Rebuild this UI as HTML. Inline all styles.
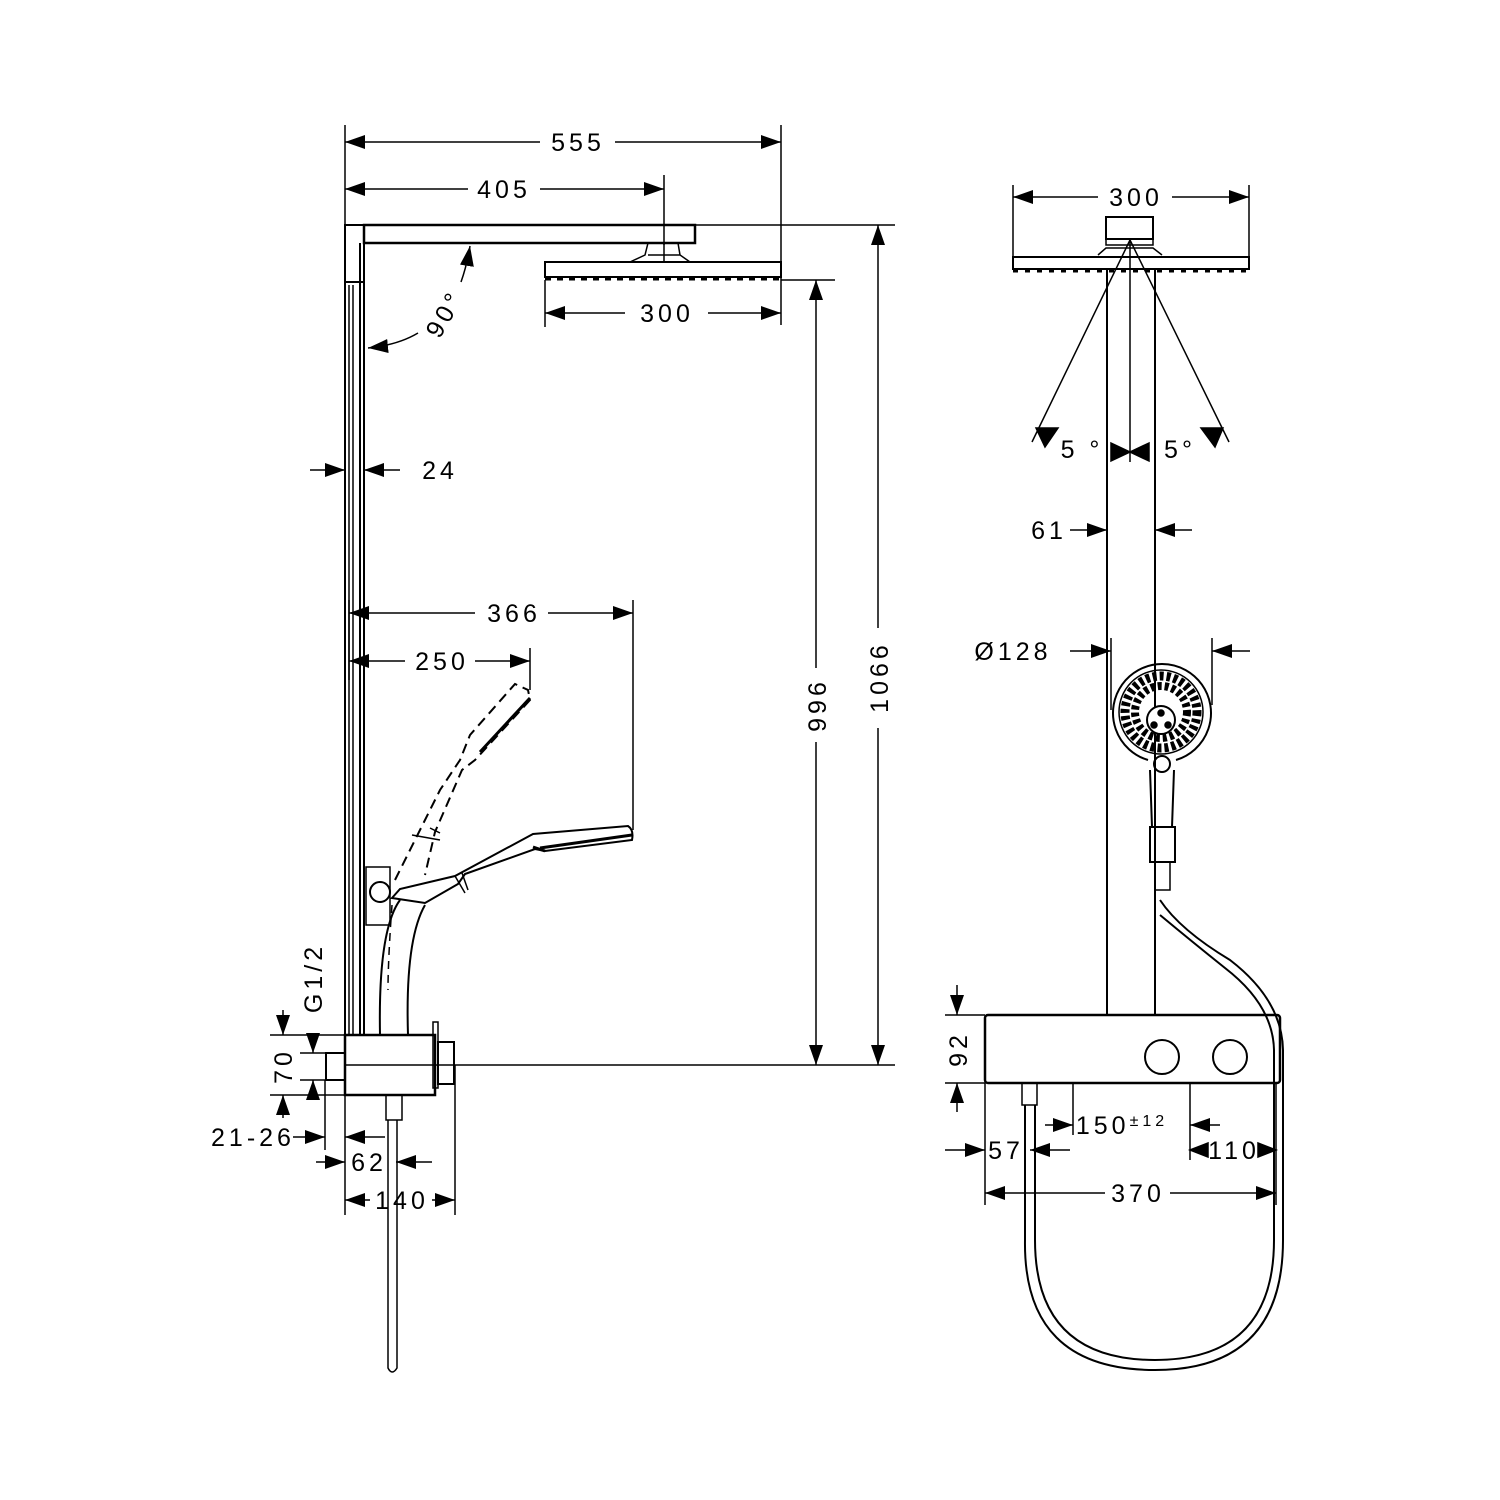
<!DOCTYPE html>
<html><head><meta charset="utf-8"><style>
html,body{margin:0;padding:0;background:#fff}
svg{display:block}
text{font-family:"Liberation Sans",sans-serif;font-size:25px;fill:#000;letter-spacing:4px}
</style></head><body>
<svg width="1500" height="1500" viewBox="0 0 1500 1500" xmlns="http://www.w3.org/2000/svg">
<defs>
<marker id="a" viewBox="0 0 20 14" refX="20" refY="7" markerWidth="20" markerHeight="14" markerUnits="userSpaceOnUse" orient="auto-start-reverse"><path d="M0,0L20,7L0,14Z" fill="#000"/></marker>
</defs>
<g stroke="#000" fill="none" stroke-width="1.5">
<line x1="345" y1="125" x2="345" y2="225"/>
<line x1="781" y1="125" x2="781" y2="325"/>
<line x1="664" y1="175" x2="664" y2="245"/>
<line x1="695" y1="225" x2="895" y2="225"/>
<line x1="781" y1="280" x2="835" y2="280"/>
<line x1="545" y1="280" x2="545" y2="327"/>
<line x1="455" y1="1065" x2="895" y2="1065"/>
<line x1="345" y1="142" x2="540" y2="142" marker-start="url(#a)"/>
<line x1="615" y1="142" x2="781" y2="142" marker-end="url(#a)"/>
<line x1="345" y1="189" x2="468" y2="189" marker-start="url(#a)"/>
<line x1="540" y1="189" x2="664" y2="189" marker-end="url(#a)"/>
<line x1="545" y1="313" x2="625" y2="313" marker-start="url(#a)"/>
<line x1="708" y1="313" x2="781" y2="313" marker-end="url(#a)"/>
<line x1="816" y1="280" x2="816" y2="668" marker-start="url(#a)"/>
<line x1="816" y1="742" x2="816" y2="1065" marker-end="url(#a)"/>
<line x1="878" y1="225" x2="878" y2="628" marker-start="url(#a)"/>
<line x1="878" y1="728" x2="878" y2="1065" marker-end="url(#a)"/>
<line x1="310" y1="470" x2="345" y2="470" marker-end="url(#a)"/>
<line x1="400" y1="470" x2="364" y2="470" marker-end="url(#a)"/>
<line x1="345" y1="455" x2="345" y2="485"/>
<line x1="349" y1="613" x2="475" y2="613" marker-start="url(#a)"/>
<line x1="548" y1="613" x2="633" y2="613" marker-end="url(#a)"/>
<line x1="633" y1="600" x2="633" y2="830"/>
<line x1="349" y1="600" x2="349" y2="680"/>
<line x1="349" y1="661" x2="405" y2="661" marker-start="url(#a)"/>
<line x1="475" y1="661" x2="530" y2="661" marker-end="url(#a)"/>
<line x1="530" y1="648" x2="530" y2="690"/>
<path d="M418,333 Q398,345 368,348" marker-end="url(#a)"/>
<path d="M461,282 Q467,265 470,246" marker-end="url(#a)"/>
<rect x="345" y="225" width="19" height="57" stroke-width="2"/>
<rect x="364" y="225" width="331" height="18" stroke-width="2.5"/>
<path d="M630,262 L645,255 L648,243 M690,262 L680,255 L678,243 M648,255 L680,255" stroke-width="1.5"/>
<line x1="664" y1="243" x2="664" y2="262"/>
<rect x="545" y="262" width="236" height="15" stroke-width="2"/>
<path d="M545,279 H781" stroke-width="3" stroke-dasharray="6 6"/>
<line x1="345" y1="282" x2="345" y2="1035" stroke-width="2"/>
<line x1="349" y1="285" x2="349" y2="1035"/>
<line x1="353" y1="285" x2="353" y2="1035"/>
<line x1="360" y1="243" x2="360" y2="1035" stroke-width="2"/>
<line x1="364" y1="243" x2="364" y2="1035" stroke-width="2"/>
<rect x="366" y="867" width="24" height="58"/>
<circle cx="380" cy="892" r="10" stroke-width="2"/>
<path d="M392,898 L400,889 L455,876 L533,834 L628,826 Q634,830 632,840 L545,851 L535,849 L465,874 L458,884 L425,903 Z" stroke-width="2"/>
<line x1="455" y1="876" x2="465" y2="893"/>
<line x1="462" y1="873" x2="468" y2="890"/>
<path d="M533,847 L545,851 M540,848 L632,835" stroke-width="3"/>
<path d="M400,900 Q378,930 380,1035" stroke-width="2"/>
<path d="M425,905 Q405,940 408,1035" stroke-width="2"/>
<path d="M392,905 Q388,960 388,990" stroke-dasharray="8 6"/>
<path d="M395,880 L420,830 L440,790 L460,760 L470,735 L515,684 L528,690 L530,700 L475,760 L462,770 L435,832 L425,875" stroke-width="2" stroke-dasharray="10 6"/>
<path d="M480,752 L530,698" stroke-width="3"/>
<line x1="430" y1="828" x2="440" y2="833"/>
<line x1="412" y1="835" x2="440" y2="840"/>
<rect x="345" y="1035" width="90" height="60" stroke-width="2.5"/>
<rect x="326" y="1053" width="19" height="27" stroke-width="2"/>
<rect x="433" y="1022" width="5" height="66" stroke-width="1.5"/>
<rect x="438" y="1042" width="16" height="42" stroke-width="2"/>
<line x1="345" y1="1065" x2="455" y2="1065"/>
<rect x="386" y="1095" width="16" height="25" stroke-width="1.5"/>
<path d="M388,1120 V1368 Q392,1376 397,1368 V1120" stroke-width="1.5"/>
<line x1="283" y1="1010" x2="283" y2="1035" marker-end="url(#a)"/>
<line x1="283" y1="1118" x2="283" y2="1095" marker-end="url(#a)"/>
<line x1="270" y1="1035" x2="345" y2="1035"/>
<line x1="270" y1="1095" x2="345" y2="1095"/>
<line x1="313" y1="1033" x2="313" y2="1053" marker-end="url(#a)"/>
<line x1="313" y1="1100" x2="313" y2="1080" marker-end="url(#a)"/>
<line x1="300" y1="1053" x2="326" y2="1053"/>
<line x1="300" y1="1080" x2="326" y2="1080"/>
<line x1="325" y1="1080" x2="325" y2="1150"/>
<line x1="345" y1="1095" x2="345" y2="1215"/>
<line x1="455" y1="1065" x2="455" y2="1215"/>
<line x1="293" y1="1137" x2="325" y2="1137" marker-end="url(#a)"/>
<line x1="385" y1="1137" x2="345" y2="1137" marker-end="url(#a)"/>
<line x1="316" y1="1162" x2="345" y2="1162" marker-end="url(#a)"/>
<line x1="432" y1="1162" x2="396" y2="1162" marker-end="url(#a)"/>
<line x1="345" y1="1200" x2="370" y2="1200" marker-start="url(#a)"/>
<line x1="432" y1="1200" x2="455" y2="1200" marker-end="url(#a)"/>

<line x1="1013" y1="185" x2="1013" y2="262"/>
<line x1="1249" y1="185" x2="1249" y2="262"/>
<line x1="1013" y1="197" x2="1098" y2="197" marker-start="url(#a)"/>
<line x1="1172" y1="197" x2="1249" y2="197" marker-end="url(#a)"/>
<rect x="1106" y="217" width="47" height="22" stroke-width="2"/>
<rect x="1106" y="239" width="47" height="6"/>
<path d="M1098,255 L1106,248 H1153 L1162,255" />
<rect x="1013" y="257" width="236" height="12" stroke-width="2"/>
<path d="M1013,271 H1249" stroke-width="3" stroke-dasharray="5 7"/>
<line x1="1107" y1="269" x2="1107" y2="1015" stroke-width="2"/>
<line x1="1155" y1="269" x2="1155" y2="1015" stroke-width="2"/>
<line x1="1130" y1="240" x2="1130" y2="462"/>
<line x1="1130" y1="240" x2="1032" y2="442"/>
<line x1="1130" y1="240" x2="1229" y2="442"/>
<path d="M1036,428 L1058,428 L1045,447Z" fill="#000"/>
<path d="M1201,428 L1223,428 L1215,447Z" fill="#000"/>
<path d="M1111,443 L1130,452 L1111,461Z M1149,443 L1130,452 L1149,461Z" fill="#000"/>
<line x1="1070" y1="530" x2="1107" y2="530" marker-end="url(#a)"/>
<line x1="1192" y1="530" x2="1155" y2="530" marker-end="url(#a)"/>
<line x1="1070" y1="651" x2="1111" y2="651" marker-end="url(#a)"/>
<line x1="1250" y1="651" x2="1212" y2="651" marker-end="url(#a)"/>
<line x1="1111" y1="638" x2="1111" y2="710"/>
<line x1="1212" y1="638" x2="1212" y2="705"/>
<path d="M1148,760 A49,49 0 1 1 1176,760" stroke-width="2"/>
<circle cx="1161" cy="712" r="42" stroke-width="1.5"/>
<circle cx="1161" cy="712" r="36" stroke="#000" stroke-width="9" stroke-dasharray="4 3"/>
<circle cx="1161" cy="712" r="26" stroke="#000" stroke-width="8" stroke-dasharray="4 3"/>
<circle cx="1161" cy="720" r="14" fill="#fff" stroke-width="2"/>
<circle cx="1161" cy="713" r="3" fill="#000"/><circle cx="1154" cy="725" r="3" fill="#000"/><circle cx="1168" cy="725" r="3" fill="#000"/>
<circle cx="1162" cy="764" r="8" stroke-width="2"/>
<path d="M1150,770 L1152,827 M1174,770 L1172,827" stroke-width="2"/>
<rect x="1150" y="827" width="25" height="35" stroke-width="2"/>
<path d="M1155,862 V890 H1170 V862"/>
<path d="M1160,900 Q1180,930 1230,960 Q1282,1000 1283,1050 V1240 Q1283,1370 1155,1370 Q1023,1370 1025,1240 V1105" stroke-width="2"/>
<path d="M1160,915 Q1190,940 1225,968 Q1273,1005 1274,1050 V1240 Q1274,1360 1155,1360 Q1035,1360 1035,1240 V1105" stroke-width="2"/>
<rect x="985" y="1015" width="295" height="68" rx="3" stroke-width="2.5"/>
<circle cx="1162" cy="1057" r="17" stroke-width="2"/>
<circle cx="1230" cy="1057" r="17" stroke-width="2"/>
<rect x="1022" y="1083" width="15" height="22"/>
<line x1="957" y1="985" x2="957" y2="1015" marker-end="url(#a)"/>
<line x1="957" y1="1112" x2="957" y2="1083" marker-end="url(#a)"/>
<line x1="945" y1="1015" x2="985" y2="1015"/>
<line x1="945" y1="1083" x2="985" y2="1083"/>
<line x1="985" y1="1083" x2="985" y2="1205"/>
<line x1="1276" y1="1083" x2="1276" y2="1205"/>
<line x1="1073" y1="1083" x2="1073" y2="1135"/>
<line x1="1190" y1="1083" x2="1190" y2="1160"/>
<line x1="1045" y1="1125" x2="1073" y2="1125" marker-end="url(#a)"/>
<line x1="1220" y1="1125" x2="1190" y2="1125" marker-end="url(#a)"/>
<line x1="945" y1="1150" x2="985" y2="1150" marker-end="url(#a)"/>
<line x1="1070" y1="1150" x2="1030" y2="1150" marker-end="url(#a)"/>
<path d="M1190,1150 L1208,1143 V1157 Z M1276,1150 L1258,1143 V1157Z" fill="#000"/>
<line x1="985" y1="1193" x2="1105" y2="1193" marker-start="url(#a)"/>
<line x1="1170" y1="1193" x2="1276" y2="1193" marker-end="url(#a)"/>
</g>
<text x="578" y="151" text-anchor="middle">555</text>
<text x="504" y="198" text-anchor="middle">405</text>
<text x="667" y="322" text-anchor="middle">300</text>
<text x="440" y="479" text-anchor="middle">24</text>
<text x="514" y="622" text-anchor="middle">366</text>
<text x="442" y="670" text-anchor="middle">250</text>
<text transform="translate(452,318) rotate(-60)" text-anchor="middle">90°</text>
<text transform="translate(826,705) rotate(-90)" text-anchor="middle">996</text>
<text transform="translate(888,677) rotate(-90)" text-anchor="middle">1066</text>
<text transform="translate(322,978) rotate(-90)" text-anchor="middle">G1/2</text>
<text transform="translate(292,1066) rotate(-90)" text-anchor="middle">70</text>
<text x="253" y="1146" text-anchor="middle">21-26</text>
<text x="369" y="1171" text-anchor="middle">62</text>
<text x="402" y="1209" text-anchor="middle">140</text>
<text x="1136" y="206" text-anchor="middle">300</text>
<text x="1082" y="458" text-anchor="middle">5 °</text>
<text x="1180" y="458" text-anchor="middle">5°</text>
<text x="1049" y="539" text-anchor="middle">61</text>
<text x="1013" y="660" text-anchor="middle">Ø128</text>
<text transform="translate(967,1049) rotate(-90)" text-anchor="middle">92</text>
<text x="1122" y="1134" text-anchor="middle">150<tspan font-size="16" dy="-8">±12</tspan></text>
<text x="1006" y="1159" text-anchor="middle">57</text>
<text x="1234" y="1159" text-anchor="middle">110</text>
<text x="1138" y="1202" text-anchor="middle">370</text>
</svg>
</body></html>
